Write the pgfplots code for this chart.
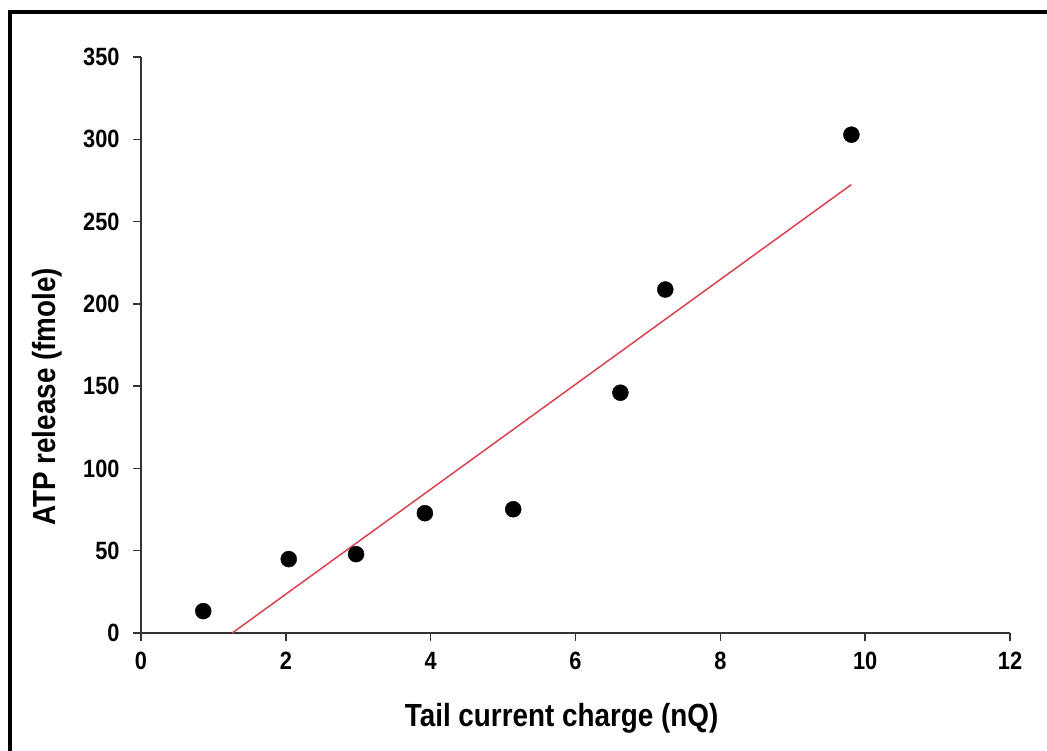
\documentclass[border=0pt]{standalone}
\usepackage{fontspec}
\setmainfont{Liberation Sans}[FakeStretch=0.87]
\usepackage{pgfplots}
\pgfplotsset{compat=1.18}
\definecolor{fitred}{HTML}{D9434F}
\definecolor{axgray}{HTML}{333333}
\begin{document}
\begin{tikzpicture}[x=1pt,y=1pt]
\useasboundingbox (-141,-118) rectangle (906,633);
\draw[line width=3.5pt] (-131,-125) -- (-131,621) -- (915,621);
\begin{axis}[
  at={(0,0)}, anchor=south west,
  scale only axis, width=869pt, height=576pt,
  xmin=0, xmax=12, ymin=0, ymax=350,
  xtick={0,2,...,12}, ytick={0,50,...,350},
  axis x line*=bottom, axis y line*=left,
  axis line style={-, axgray, line width=1.8pt},
  tick align=outside, major tick length=8pt,
  tick style={axgray, line width=1.5pt},
  /pgf/number format/assume math mode=true,
  ticklabel style={font=\fontsize{25}{27}\selectfont\bfseries},
  xticklabel style={yshift=-8pt},
  yticklabel style={xshift=-10pt},
  label style={font=\fontsize{32}{34}\selectfont\bfseries},
  xlabel={Tail current charge (nQ)},
  ylabel={ATP release (fmole)},
  xlabel style={at={(axis description cs:0.484,-0.1476)}, anchor=center},
  ylabel style={at={(axis description cs:-0.108,0.41)}, anchor=center},
  clip=false,
]
\addplot[only marks, mark=*, mark size=8pt, black] coordinates {
  (0.86,13.3) (2.04,44.9) (2.97,47.9) (3.92,72.8)
  (5.14,75.2) (6.62,146) (7.24,208.7) (9.81,302.8)};
\addplot[fitred, line width=1.5pt] coordinates {(1.26,0) (9.81,272.5)};
\end{axis}
\end{tikzpicture}
\end{document}
